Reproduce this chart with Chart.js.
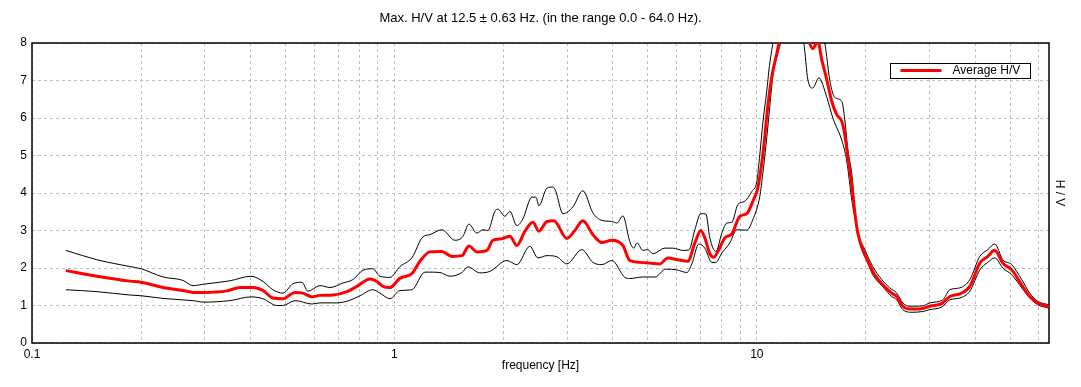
<!DOCTYPE html>
<html>
<head>
<meta charset="utf-8">
<title>H/V</title>
<script src="https://cdn.jsdelivr.net/npm/chart.js@4.4.0/dist/chart.umd.min.js"></script>
<style>
  html, body { margin: 0; padding: 0; background: #fff; }
  #hv_chart { display: block; }
</style>
</head>
<body>
<canvas id="hv_chart" width="1081" height="387"></canvas>
<script>
// average H/V curve (frequency in Hz, ratio)
const avgFreq = [0.124, 0.151, 0.186, 0.2, 0.23, 0.261, 0.278, 0.298, 0.345, 0.375,
  0.407, 0.434, 0.462, 0.492, 0.532, 0.559, 0.592, 0.623, 0.677, 0.74,
  0.788, 0.856, 0.895, 0.93, 0.972, 1.036, 1.117, 1.176, 1.253, 1.352,
  1.441, 1.536, 1.605, 1.689, 1.8, 1.869, 1.98, 2.083, 2.177, 2.291,
  2.411, 2.504, 2.635, 2.754, 2.991, 3.147, 3.311, 3.529, 3.737, 3.981,
  4.269, 4.463, 4.756, 5.068, 5.4, 5.683, 6.056, 6.451, 6.745, 7.006,
  7.187, 7.42, 7.612, 7.807, 8.161, 8.532, 8.977, 9.385, 9.75, 10.06,
  10.32, 10.52, 10.72, 11.0, 11.36, 11.95, 12.57, 13.14, 13.74, 14.27,
  14.73, 15.11, 15.6, 16.1, 16.62, 17.16, 17.49, 17.83, 18.29, 18.64,
  19.0, 19.61, 20.24, 21.16, 22.26, 23.57, 24.33, 25.28, 26.43, 28.16,
  30.01, 32.38, 34.07, 36.31, 38.7, 41.23, 43.37, 45.35, 47.71, 50.51,
  53.83, 56.63, 59.6, 64.0];
const avgHV = [1.93, 1.78, 1.65, 1.62, 1.48, 1.40, 1.35, 1.35, 1.39, 1.48,
  1.48, 1.40, 1.20, 1.18, 1.35, 1.33, 1.23, 1.27, 1.28, 1.37,
  1.51, 1.71, 1.64, 1.51, 1.48, 1.73, 1.85, 2.18, 2.43, 2.44,
  2.31, 2.33, 2.59, 2.43, 2.47, 2.74, 2.78, 2.85, 2.60, 2.98,
  3.22, 2.98, 3.24, 3.26, 2.79, 3.00, 3.26, 2.89, 2.68, 2.74,
  2.60, 2.20, 2.15, 2.13, 2.11, 2.27, 2.22, 2.18, 2.67, 3.00,
  2.80, 2.38, 2.29, 2.44, 2.80, 2.91, 3.38, 3.45, 3.78, 4.13,
  4.80, 5.51, 6.31, 7.11, 7.73, 8.8, 9.0, 8.8, 8.2, 7.85,
  8.05, 7.55, 7.02, 6.44, 6.09, 5.91, 5.55, 4.95, 4.20, 3.47,
  2.93, 2.49, 2.18, 1.82, 1.55, 1.33, 1.24, 0.98, 0.91, 0.91,
  0.98, 1.05, 1.24, 1.31, 1.51, 2.13, 2.31, 2.47, 2.13, 1.95,
  1.55, 1.24, 1.07, 0.97];

// upper std curve
const upFreq = [0.124, 0.151, 0.186, 0.2, 0.23, 0.261, 0.278, 0.298, 0.352, 0.402,
  0.434, 0.462, 0.492, 0.525, 0.556, 0.577, 0.623, 0.664, 0.721, 0.768,
  0.819, 0.872, 0.912, 0.972, 1.036, 1.117, 1.198, 1.253, 1.352, 1.469,
  1.545, 1.605, 1.689, 1.754, 1.811, 1.893, 1.93, 2.017, 2.083, 2.177,
  2.262, 2.395, 2.457, 2.504, 2.635, 2.736, 2.789, 2.916, 3.108, 3.311,
  3.529, 3.737, 3.981, 4.11, 4.269, 4.463, 4.578, 4.667, 4.848, 5.005,
  5.167, 5.575, 5.866, 6.252, 6.494, 6.745, 7.006, 7.233, 7.42, 7.708,
  8.006, 8.265, 8.532, 8.864, 9.266, 9.687, 10.0, 10.19, 10.39, 10.66,
  10.86, 11.95, 12.57, 13.57, 14.45, 15.4, 15.9, 16.41, 17.16, 17.49,
  17.83, 18.29, 18.64, 19.0, 19.86, 20.89, 22.12, 23.27, 24.33, 25.28,
  26.43, 28.7, 30.01, 32.59, 34.07, 36.31, 38.7, 41.23, 43.37, 45.35,
  47.71, 50.51, 53.83, 56.63, 59.6, 64.0];
const upHV = [2.47, 2.22, 2.04, 1.98, 1.76, 1.67, 1.53, 1.57, 1.66, 1.78,
  1.64, 1.42, 1.33, 1.58, 1.62, 1.38, 1.53, 1.48, 1.60, 1.69,
  1.94, 1.98, 1.78, 1.75, 2.04, 2.27, 2.83, 2.89, 3.02, 2.74,
  2.84, 3.17, 2.93, 3.02, 3.00, 3.51, 3.57, 3.38, 3.51, 3.13,
  3.31, 3.89, 3.89, 3.66, 4.13, 4.16, 4.04, 3.45, 3.63, 4.06,
  3.47, 3.27, 3.24, 3.20, 3.39, 2.70, 2.53, 2.67, 2.47, 2.49,
  2.38, 2.53, 2.53, 2.47, 2.48, 3.02, 3.45, 3.44, 2.80, 2.44,
  2.93, 3.20, 3.22, 3.69, 3.78, 4.04, 4.31, 5.02, 5.87, 6.75,
  7.47, 9.3, 9.6, 9.3, 8.8, 8.0, 7.0, 6.55, 6.44, 5.95,
  5.15, 4.50, 3.60, 2.98, 2.49, 2.04, 1.69, 1.47, 1.33, 1.07,
  0.98, 0.99, 1.07, 1.15, 1.42, 1.47, 1.69, 2.31, 2.49, 2.64,
  2.22, 2.09, 1.69, 1.33, 1.11, 1.02];

// lower std curve
const loFreq = [0.124, 0.151, 0.186, 0.2, 0.23, 0.261, 0.278, 0.298, 0.352, 0.402,
  0.434, 0.474, 0.492, 0.532, 0.592, 0.623, 0.694, 0.754, 0.803, 0.872,
  0.912, 0.972, 1.036, 1.117, 1.214, 1.253, 1.335, 1.423, 1.536, 1.595,
  1.721, 1.834, 2.043, 2.177, 2.365, 2.488, 2.635, 2.807, 2.991, 3.29,
  3.529, 3.737, 3.981, 4.323, 4.463, 4.848, 5.233, 5.61, 6.018, 6.41,
  6.617, 6.918, 7.187, 7.514, 7.708, 8.006, 8.423, 8.806, 9.385, 9.75,
  10.19, 10.39, 10.66, 10.86, 11.07, 11.43, 12.33, 12.97, 13.48, 13.83,
  14.27, 14.83, 15.6, 16.21, 17.16, 17.71, 18.29, 18.64, 19.24, 20.11,
  20.89, 22.12, 23.57, 24.33, 25.28, 26.77, 28.7, 30.01, 32.38, 34.07,
  36.31, 38.7, 41.23, 43.37, 45.35, 47.71, 50.51, 53.83, 56.63, 59.6,
  64.0];
const loHV = [1.42, 1.37, 1.28, 1.26, 1.19, 1.15, 1.13, 1.09, 1.13, 1.23,
  1.18, 1.00, 1.00, 1.13, 1.04, 1.07, 1.07, 1.14, 1.26, 1.42,
  1.33, 1.18, 1.40, 1.42, 1.89, 1.89, 1.88, 1.78, 1.88, 2.03,
  1.87, 1.91, 2.20, 2.09, 2.58, 2.27, 2.33, 2.30, 2.11, 2.49,
  2.15, 2.09, 2.20, 1.75, 1.72, 1.76, 1.76, 1.97, 1.95, 1.88,
  2.11, 2.64, 2.53, 2.15, 2.15, 2.40, 2.67, 3.02, 3.01, 3.29,
  3.91, 4.53, 5.51, 6.31, 7.11, 7.73, 8.6, 8.5, 8.0, 7.02,
  6.80, 7.07, 6.55, 6.00, 5.40, 4.85, 3.80, 3.35, 2.65, 2.20,
  1.82, 1.53, 1.24, 1.15, 0.89, 0.82, 0.84, 0.89, 0.96, 1.15,
  1.20, 1.38, 1.95, 2.15, 2.27, 2.00, 1.82, 1.47, 1.20, 1.02,
  0.93];

// x grid lines and which of them get a label
const xGridTicks = [0.1, 0.2, 0.3, 0.4, 0.5, 0.6, 0.7, 0.8, 0.9,
  1, 2, 3, 4, 5, 6, 7, 8, 9, 10, 20, 30, 40, 50, 60];
const xTickLabels = [0.1, 1, 10];

const chartTitle = 'Max. H/V at 12.5 \u00b1 0.63 Hz. (in the range 0.0 - 64.0 Hz).';
const FONT = "'Liberation Sans', Arial, sans-serif";

Chart.defaults.font.family = FONT;
Chart.defaults.font.size = 12;
Chart.defaults.color = '#000';

function toPoints(freqs, vals) {
    return freqs.map(function (f, i) { return {x: f, y: vals[i]}; });
}

// black box round the plot area (drawn under the curves)
const frame = {
    id: 'frame',
    beforeDatasetsDraw: function (chart) {
        var a = chart.chartArea;
        var ctx = chart.ctx;
        ctx.save();
        ctx.strokeStyle = '#000';
        ctx.lineWidth = 1.5;
        ctx.strokeRect(a.left, a.top, a.right - a.left, a.bottom - a.top);
        ctx.restore();
    }
};

// boxed legend in the top right corner, only for the average curve
const boxLegend = {
    id: 'boxLegend',
    afterDraw: function (chart) {
        var ds = chart.data.datasets[0];
        var a = chart.chartArea;
        var ctx = chart.ctx;
        var w = 140, h = 15;
        var x0 = a.right - 18.5 - w;
        var y0 = a.top + 20.5;
        ctx.save();
        ctx.fillStyle = '#fff';
        ctx.fillRect(x0, y0, w, h);
        ctx.strokeStyle = '#000';
        ctx.lineWidth = 1;
        ctx.strokeRect(x0, y0, w, h);
        ctx.strokeStyle = ds.borderColor;
        ctx.lineWidth = 3;
        ctx.beginPath();
        ctx.moveTo(x0 + 10, y0 + 7);
        ctx.lineTo(x0 + 51, y0 + 7);
        ctx.stroke();
        ctx.fillStyle = '#000';
        ctx.font = '12px ' + FONT;
        ctx.textBaseline = 'middle';
        ctx.textAlign = 'left';
        ctx.fillText(ds.label, x0 + 62, y0 + 7.5);
        ctx.restore();
    }
};

var ctx = document.getElementById('hv_chart').getContext('2d');
var chart = new Chart(ctx, {
    type: 'line',
    data: {
        datasets: [
            {
                label: 'Average H/V',
                data: toPoints(avgFreq, avgHV),
                borderColor: '#ff0000',
                borderWidth: 3,
                pointRadius: 0,
                cubicInterpolationMode: 'monotone'
            },
            {
                label: 'upper',
                data: toPoints(upFreq, upHV),
                borderColor: '#000000',
                borderWidth: 1,
                pointRadius: 0,
                cubicInterpolationMode: 'monotone'
            },
            {
                label: 'lower',
                data: toPoints(loFreq, loHV),
                borderColor: '#000000',
                borderWidth: 1,
                pointRadius: 0,
                cubicInterpolationMode: 'monotone'
            }
        ]
    },
    options: {
        responsive: false,
        animation: false,
        devicePixelRatio: 1,
        layout: { padding: 0 },
        plugins: {
            legend: { display: false },
            tooltip: { enabled: false },
            title: {
                display: true,
                text: chartTitle,
                color: '#000',
                font: { size: 13, weight: 'normal', lineHeight: 1.2 },
                padding: { top: 11, bottom: 16.4 }
            }
        },
        scales: {
            x: {
                type: 'logarithmic',
                min: 0.1,
                max: 64,
                afterBuildTicks: function (scale) {
                    scale.ticks = xGridTicks.map(function (v) { return {value: v}; });
                },
                afterFit: function (scale) { scale.height = 44; },
                ticks: {
                    autoSkip: false,
                    maxRotation: 0,
                    padding: 4,
                    callback: function (value) {
                        return xTickLabels.indexOf(value) >= 0 ? String(value) : '';
                    }
                },
                grid: { color: '#c0c0c0', drawTicks: false },
                border: { display: false, dash: [3, 3] },
                title: {
                    display: true,
                    text: 'frequency [Hz]',
                    padding: { top: 0, bottom: 14.5 }
                }
            },
            y: {
                min: 0,
                max: 8,
                afterFit: function (scale) { scale.width = 32; },
                ticks: { stepSize: 1, padding: 5 },
                grid: { color: '#c0c0c0', drawTicks: false },
                border: { display: false, dash: [3, 3] }
            },
            y2: {
                position: 'right',
                afterFit: function (scale) { scale.width = 32; },
                ticks: { display: false },
                grid: { display: false, drawTicks: false },
                border: { display: false },
                title: {
                    display: true,
                    text: 'H / V',
                    padding: { top: 14.5, bottom: 0 }
                }
            }
        }
    },
    plugins: [frame, boxLegend]
});
</script>
</body>
</html>
